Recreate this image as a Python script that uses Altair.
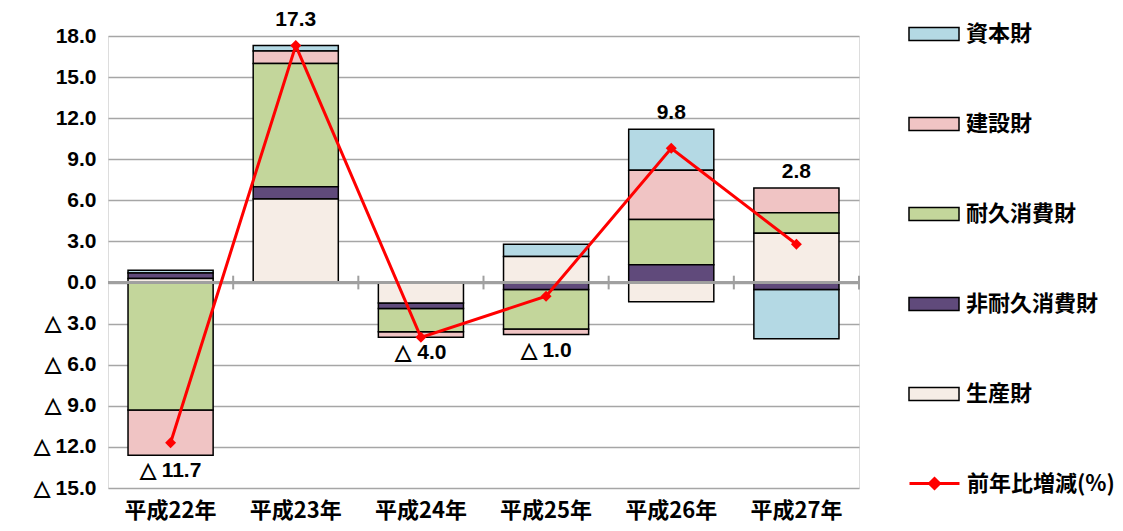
import altair as alt
import pandas as pd

# ---- data ----
years = ["平成22年", "平成23年", "平成24年", "平成25年", "平成26年", "平成27年"]
legend_order = ["資本財", "建設財", "耐久消費財", "非耐久消費財", "生産財"]
stack_order = ["生産財", "非耐久消費財", "耐久消費財", "建設財", "資本財"]  # bottom -> top

capital = [0.2, 0.4, 0.0, 0.9, 3.0, -3.6]        # 資本財
construction = [-3.3, 0.9, -0.4, -0.4, 3.6, 1.8]  # 建設財
durable = [-9.3, 9.0, -1.7, -2.9, 3.3, 1.5]       # 耐久消費財
nondurable = [0.4, 0.9, -0.4, -0.5, 1.3, -0.5]    # 非耐久消費財
producer = [0.3, 6.1, -1.5, 1.9, -1.4, 3.6]       # 生産財
yoy = [-11.7, 17.3, -4.0, -1.0, 9.8, 2.8]         # 前年比増減(%)

line_name = "前年比増減(%)"
colors = ["#b4d9e4", "#f0c4c4", "#c3d69b", "#604a7b", "#f6ede6"]
y_ticks = [-15, -12, -9, -6, -3, 0, 3, 6, 9, 12, 15, 18]

series = {
    "資本財": capital,
    "建設財": construction,
    "耐久消費財": durable,
    "非耐久消費財": nondurable,
    "生産財": producer,
}

rows = []
for name, vals in series.items():
    for yr, v in zip(years, vals):
        rows.append({"year": yr, "category": name, "value": v,
                     "order": stack_order.index(name)})
bars_df = pd.DataFrame(rows)

ymax = max(y_ticks)
lab_rows = []
for i, yr in enumerate(years):
    vals = [series[n][i] for n in series]
    pos = sum(v for v in vals if v > 0)
    neg = sum(v for v in vals if v < 0)
    val = yoy[i]
    if val >= 0:
        anchor = ymax if pos > ymax - 1 else pos
        text = f"{val:.1f}"
    else:
        anchor = neg
        text = f"△ {abs(val):.1f}"
    lab_rows.append({"year": yr, "yoy": val, "anchor": anchor, "text": text,
                     "series": line_name})
lab_df = pd.DataFrame(lab_rows)

num_font = "Liberation Sans"
jp_font = "Noto Sans CJK JP"

x_enc = alt.X("year:N", sort=years,
              scale=alt.Scale(paddingInner=0, paddingOuter=0),
              axis=alt.Axis(title=None, ticks=False, domain=False, labelAngle=0,
                            labelFont=jp_font, labelFontWeight="bold",
                            labelFontSize=22, labelColor="black", labelPadding=12))

y_scale = alt.Scale(domain=[-15, 18], nice=False, zero=False)

bars = alt.Chart(bars_df).mark_bar(
    width=alt.RelativeBandSize(0.68), stroke="black", strokeWidth=1.5
).encode(
    x=x_enc,
    y=alt.Y("value:Q", scale=y_scale, stack="zero",
            axis=alt.Axis(title=None, values=y_ticks, ticks=False, domain=False,
                          grid=True, gridColor="#a6a6a6", gridWidth=1.5,
                          labelFont=num_font, labelFontWeight="bold",
                          labelFontSize=21, labelColor="black", labelPadding=12,
                          labelExpr="datum.value < 0 ? '△ ' + format(-datum.value, '.1f') : format(datum.value, '.1f')")),
    fill=alt.Fill("category:N",
                  scale=alt.Scale(domain=legend_order, range=colors),
                  legend=alt.Legend(title=None, orient="none", legendX=800, legendY=-28,
                                    symbolType="M-1,-0.26H1V0.26H-1Z", symbolSize=2500,
                                    symbolStrokeColor="black", symbolStrokeWidth=1.5,
                                    rowPadding=53, labelOffset=6,
                                    labelFont=jp_font, labelFontWeight="bold",
                                    labelFontSize=22, labelColor="black")),
    order=alt.Order("order:Q", sort="ascending"),
)

zero_line = alt.Chart(lab_df).mark_rule(color="#a0a0a0", strokeWidth=2).encode(
    y=alt.datum(0)
)

zero_ticks = alt.Chart(lab_df).mark_rule(color="#a0a0a0", strokeWidth=2).encode(
    x=alt.X("year:N", sort=years, bandPosition=1),
    y=alt.datum(-0.5),
    y2=alt.datum(0.5),
)

line = alt.Chart(lab_df).mark_line(strokeWidth=3).encode(
    x=alt.X("year:N", sort=years),
    y=alt.Y("yoy:Q", scale=y_scale),
    stroke=alt.Stroke("series:N", scale=alt.Scale(domain=[line_name], range=["#ff0000"]),
                      legend=alt.Legend(title=None, orient="none", legendX=800, legendY=421,
                                        symbolType="M-1,0H1M0,-0.2L0.2,0L0,0.2L-0.2,0Z",
                                        symbolSize=2500, symbolStrokeWidth=3,
                                        symbolFillColor="#ff0000", labelOffset=6,
                                        labelFont=jp_font, labelFontWeight="bold",
                                        labelFontSize=22, labelColor="black")),
)

points = alt.Chart(lab_df).mark_point(shape="diamond", filled=True, size=120,
                                      color="#ff0000", opacity=1).encode(
    x=alt.X("year:N", sort=years),
    y=alt.Y("yoy:Q", scale=y_scale),
)

pos_labels = alt.Chart(lab_df).transform_filter("datum.yoy >= 0").mark_text(
    baseline="bottom", dy=-6, font=num_font, fontWeight="bold", fontSize=21, color="black"
).encode(
    x=alt.X("year:N", sort=years),
    y=alt.Y("anchor:Q", scale=y_scale),
    text="text:N",
)

neg_labels = alt.Chart(lab_df).transform_filter("datum.yoy < 0").mark_text(
    baseline="top", dy=5, font=num_font, fontWeight="bold", fontSize=21, color="black"
).encode(
    x=alt.X("year:N", sort=years),
    y=alt.Y("anchor:Q", scale=y_scale),
    text="text:N",
)

chart = alt.layer(
    bars, zero_line, zero_ticks, line, points, pos_labels, neg_labels
).resolve_legend(fill="independent", stroke="independent").properties(
    width=751, height=452,
    autosize=alt.AutoSizeParams(type="none"),
    padding={"left": 100, "top": 28, "right": 256, "bottom": 35},
).configure_view(
    stroke="#a6a6a6", strokeWidth=2
).configure(background="white")

chart.save("out.html", embed_options={"renderer": "svg", "actions": False})
